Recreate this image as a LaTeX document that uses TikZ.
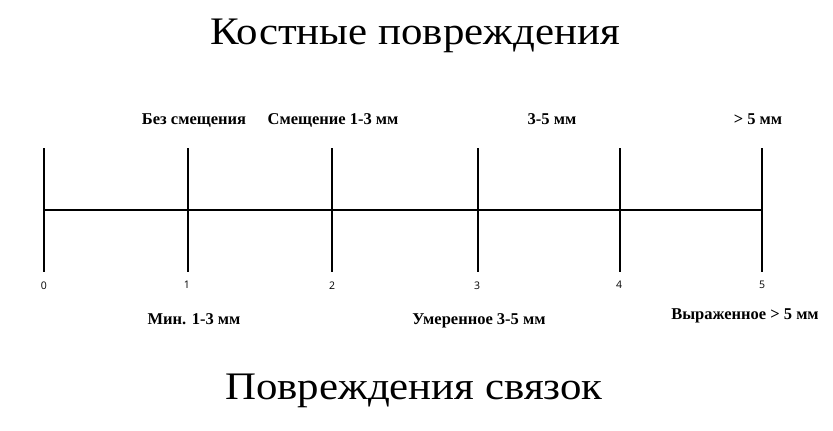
\documentclass[tikz,border=0pt]{standalone}
\usepackage{fontspec}
\setmainfont{Liberation Serif}
\newfontfamily\numfont{Open Sans}
\usetikzlibrary{calc}

\tikzset{
    scaleline/.style={line width=1.8pt, black},
    toplabel/.style={font=\fontsize{16.5}{18}\selectfont\bfseries, anchor=base},
    numlabel/.style={font=\numfont\fontsize{10.5}{12}\selectfont, anchor=base},
    titlelabel/.style={font=\fontsize{39}{44}\selectfont, anchor=base, xscale=1.1, transform shape}
}

\begin{document}
\begin{tikzpicture}[x=1pt, y=-1pt]
    \useasboundingbox (0,0) rectangle (833,431);

    % Define points for the ticks on the scale
    \coordinate (t0) at (44,210);
    \coordinate (t1) at (188,210);
    \coordinate (t2) at (332,210);
    \coordinate (t3) at (478,210);
    \coordinate (t4) at (620,210);
    \coordinate (t5) at (762,210);

    % Draw the main line
    \draw[scaleline] (t0) -- (t5);

    % Draw the ticks
    \draw[scaleline] ($(t0)+(0,-62)$) -- ($(t0)+(0,62)$);
    \draw[scaleline] ($(t1)+(0,-62)$) -- ($(t1)+(0,62)$);
    \draw[scaleline] ($(t2)+(0,-62)$) -- ($(t2)+(0,62)$);
    \draw[scaleline] ($(t3)+(0,-62)$) -- ($(t3)+(0,62)$);
    \draw[scaleline] ($(t4)+(0,-62)$) -- ($(t4)+(0,62)$);
    \draw[scaleline] ($(t5)+(0,-62)$) -- ($(t5)+(0,62)$);

    % Numbers below the ticks
    \node[numlabel] (n0) at ($(t0)+(0,79)$) {0};
    \node[numlabel] (n1) at ($(t1)+(-1,78)$) {1};
    \node[numlabel] (n2) at ($(t2)+(0,79)$) {2};
    \node[numlabel] (n3) at ($(t3)+(-1,79)$) {3};
    \node[numlabel] (n4) at ($(t4)+(-1,78)$) {4};
    \node[numlabel] (n5) at ($(t5)+(0,78)$) {5};

    % Titles
    \node[titlelabel] (bone) at (415,44) {Костные повреждения};
    \node[titlelabel] (ligament) at (414,399) {Повреждения связок};

    % Labels above the scale
    \node[toplabel] (a1) at (194,124) {Без смещения};
    \node[toplabel] (a2) at (333,124) {Смещение 1-3 мм};
    \node[toplabel] (a3) at (552,124) {3-5 мм};
    \node[toplabel] (a4) at (758,124) {> 5 мм};

    % Labels below the scale
    \node[toplabel] (b1) at (194,324) {Мин. 1-3 мм};
    \node[toplabel] (b2) at (479,324) {Умеренное 3-5 мм};
    \node[toplabel] (b3) at (745,319) {Выраженное > 5 мм};

\end{tikzpicture}
\end{document}
